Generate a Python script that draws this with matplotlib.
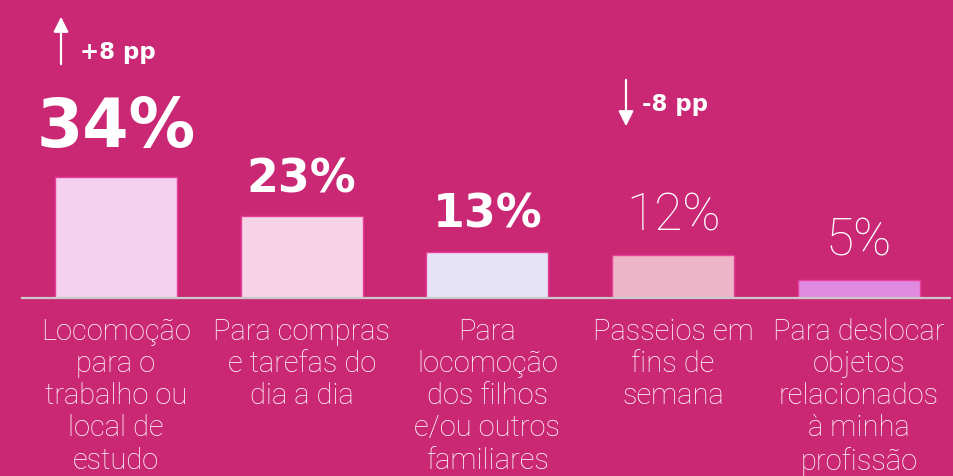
import matplotlib
matplotlib.use('Agg')
import matplotlib.pyplot as plt

# dados
categorias = ['Locomoção\npara o\ntrabalho ou\nlocal de\nestudo',
              'Para compras\ne tarefas do\ndia a dia',
              'Para\nlocomoção\ndos filhos\ne/ou outros\nfamiliares',
              'Passeios em\nfins de\nsemana',
              'Para deslocar\nobjetos\nrelacionados\nà minha\nprofissão']
valores = [34, 23, 13, 12, 5]
rotulos = ['34%', '23%', '13%', '12%', '5%']
destaque = [True, True, True, False, False]   # rótulos em negrito
variacao = {0: '+8 pp', 3: '-8 pp'}

cor_fundo = '#CA2874'
cores_barras = ['#F4D0F1', '#F7D3E7', '#E7E3F7', '#EDB6C8', '#E08AE1']

fig = plt.figure(figsize=(9.54, 4.77), dpi=100, facecolor=cor_fundo)
ax = fig.add_axes([0, 0, 1, 1])
ax.set_facecolor(cor_fundo)

# escala: 185.7 px por categoria, 3.56 px por ponto percentual
ax.set_xlim(-116 / 185.7, (954 - 116) / 185.7)
ax.set_ylim(-178 / 3.56, (477 - 178) / 3.56)
ax.axis('off')

x = list(range(len(valores)))
ax.bar(x, valores, width=0.657, color=cores_barras, edgecolor='#E8409A',
       linewidth=1.0, zorder=2)
ax.axhline(0, xmin=22 / 954, xmax=950 / 954, color='#C9C9C9', linewidth=1.6, zorder=3)

# rótulos de valor
for i, (v, r, b) in enumerate(zip(valores, rotulos, destaque)):
    if b:
        tamanho = 48 if i == 0 else 33
        ax.annotate(r, (i, v), xytext=(0, 22 if i == 0 else 18), textcoords='offset points',
                    ha='center', va='baseline', color='white', fontsize=tamanho,
                    fontweight='bold', family=['DejaVu Sans'])
    else:
        ax.annotate(r, (i, v), xytext=(0, 18.5), textcoords='offset points',
                    ha='center', va='baseline', color='white', fontsize=37,
                    fontweight='light', family=['Roboto', 'DejaVu Sans'])

# categorias
for i, c in enumerate(categorias):
    ax.text(i, -5.3, c, ha='center', va='top', multialignment='center',
            color='white', fontsize=21, fontweight='light', family=['Roboto', 'DejaVu Sans'],
            linespacing=1.19)

# setas de variação
seta = dict(arrowstyle='-|>,head_length=0.9,head_width=0.45', color='white', lw=1.6)
ax.annotate('', xy=(61, 477 - 15), xytext=(61, 477 - 68), xycoords='figure pixels',
            textcoords='figure pixels', arrowprops=seta)
ax.annotate('', xy=(626, 477 - 130), xytext=(626, 477 - 78), xycoords='figure pixels',
            textcoords='figure pixels', arrowprops=seta)
ax.text(80 / 954, 1 - 52 / 477, variacao[0], transform=fig.transFigure, ha='left', va='center',
        color='white', fontsize=16.5, fontweight='bold', family=['DejaVu Sans'])
ax.text(642 / 954, 1 - 104 / 477, variacao[3], transform=fig.transFigure, ha='left', va='center',
        color='white', fontsize=16.5, fontweight='bold', family=['DejaVu Sans'])

fig.savefig('out.png', dpi=100, facecolor=cor_fundo)
